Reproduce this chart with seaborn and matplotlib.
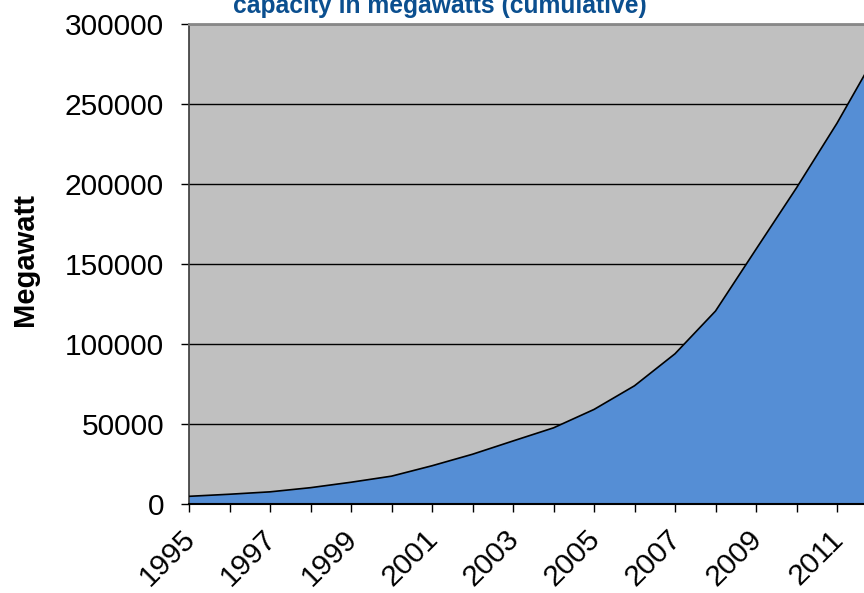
import numpy as np
import pandas as pd
import seaborn as sns
import matplotlib.pyplot as plt
import matplotlib.transforms as mtransforms

years = [1995, 1996, 1997, 1998, 1999, 2000, 2001, 2002, 2003, 2004,
         2005, 2006, 2007, 2008, 2009, 2010, 2011, 2012]
megawatt = [4800, 6100, 7600, 10200, 13600, 17400, 23900, 31100, 39400, 47600,
            59100, 73900, 93900, 120600, 159200, 197600, 238000, 282500]
y_ticks = [0, 50000, 100000, 150000, 200000, 250000, 300000]

df = pd.DataFrame({"Year": years, "Megawatt": megawatt})

sns.set_theme(style="white")
plt.rcParams["font.family"] = ["Liberation Sans", "DejaVu Sans"]
plt.rcParams["text.color"] = "black"
plt.rcParams["axes.labelcolor"] = "black"
plt.rcParams["xtick.color"] = "black"
plt.rcParams["ytick.color"] = "black"

fig = plt.figure(figsize=(8.64, 5.93), dpi=100)
ax = fig.add_axes([189 / 864, 89 / 593, 688.5 / 864, 480 / 593])
ax.set_facecolor("#C0C0C0")

ax.fill_between(df["Year"], df["Megawatt"], color="#558ED5", zorder=2)
sns.lineplot(data=df, x="Year", y="Megawatt", color="black", linewidth=1.2, ax=ax, zorder=3)

ax.set_xlim(1995, 2012)
ax.set_ylim(0, 300000)
ax.grid(axis="y", color="black", linewidth=1, zorder=1)
ax.set_axisbelow(True)

ax.tick_params(axis="y", direction="out", length=6, width=1, pad=12, colors="black", left=True)
ax.tick_params(axis="x", direction="out", length=6, width=1, pad=7, colors="black", bottom=True)

ax.set_yticks(y_ticks)
ax.set_yticklabels([str(v) for v in y_ticks], fontsize=21.5)
ax.set_xticks(years)
ax.set_xticklabels([str(y) if y % 2 == 1 else "" for y in years], fontsize=21.5,
                   rotation=45, ha="right", rotation_mode="anchor")
shift = mtransforms.ScaledTranslation(-8 / 100, -3 / 100, fig.dpi_scale_trans)
for lab in ax.get_xticklabels():
    lab.set_transform(lab.get_transform() + shift)

ax.spines["left"].set_color("#404040")
ax.spines["top"].set_color("#888888")
ax.spines["top"].set_linewidth(2)
ax.spines["bottom"].set_color("black")
ax.spines["bottom"].set_linewidth(1.5)
ax.spines["right"].set_visible(False)

ax.set_xlabel("")
ax.set_ylabel("Megawatt", fontsize=21, fontweight="bold", color="black")
ax.yaxis.set_label_coords(-150 / 688.5, (593 - 260 - 89) / 480)

fig.text(440 / 864, 1 - 12.5 / 593, "capacity in megawatts (cumulative)", ha="center",
         va="baseline", fontsize=17.7, fontweight="bold", color="#0B4F8F")

plt.savefig("out.png", dpi=100)
